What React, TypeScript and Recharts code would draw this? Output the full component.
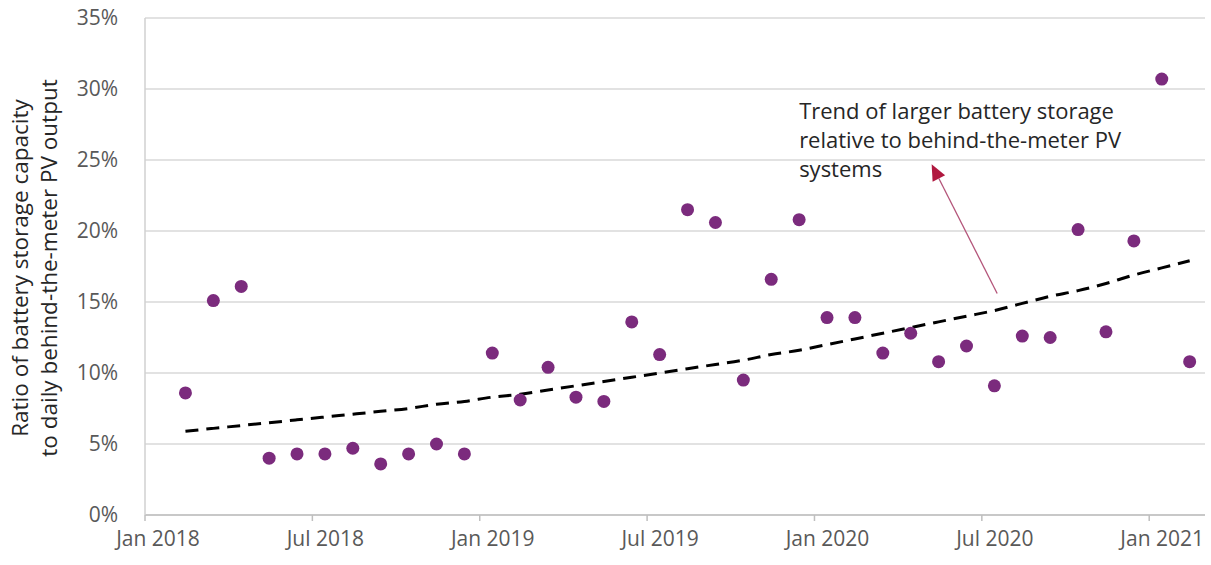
import React from "react";
import {
  ComposedChart,
  Scatter,
  Line,
  XAxis,
  YAxis,
  CartesianGrid,
  ReferenceLine,
  ReferenceDot,
} from "recharts";

// Months (index from Jan 2018 = 0), one observation per month
const months: string[] = [
  "2018-02", "2018-03", "2018-04", "2018-05", "2018-06", "2018-07", "2018-08", "2018-09",
  "2018-10", "2018-11", "2018-12", "2019-01", "2019-02", "2019-03", "2019-04", "2019-05",
  "2019-06", "2019-07", "2019-08", "2019-09", "2019-10", "2019-11", "2019-12", "2020-01",
  "2020-02", "2020-03", "2020-04", "2020-05", "2020-06", "2020-07", "2020-08", "2020-09",
  "2020-10", "2020-11", "2020-12", "2021-01", "2021-02",
];

// Ratio of battery storage capacity to daily behind-the-meter PV output (%)
const ratio: number[] = [
  8.6, 15.1, 16.1, 4.0, 4.3, 4.3, 4.7, 3.6,
  4.3, 5.0, 4.3, 11.4, 8.1, 10.4, 8.3, 8.0,
  13.6, 11.3, 21.5, 20.6, 9.5, 16.6, 20.8, 13.9,
  13.9, 11.4, 12.8, 10.8, 11.9, 9.1, 12.6, 12.5,
  20.1, 12.9, 19.3, 30.7, 10.8,
];

// Trend line values (%)
const trend: number[] = [
  5.9, 6.1, 6.3, 6.5, 6.7, 6.9, 7.1, 7.3,
  7.5, 7.8, 8.0, 8.3, 8.5, 8.8, 9.1, 9.4,
  9.7, 10.0, 10.3, 10.6, 10.9, 11.3, 11.6, 12.0,
  12.4, 12.8, 13.2, 13.6, 14.0, 14.4, 14.9, 15.4,
  15.8, 16.3, 16.9, 17.4, 17.9,
];

const xTicks: number[] = [0, 6, 12, 18, 24, 30, 36];
const xTickLabels: string[] = ["Jan 2018", "Jul 2018", "Jan 2019", "Jul 2019", "Jan 2020", "Jul 2020", "Jan 2021"];
const yTicks: number[] = [0, 5, 10, 15, 20, 25, 30, 35];

const annotationLines: string[] = [
  "Trend of larger battery storage",
  "relative to behind-the-meter PV",
  "systems",
];
const yLabelLines: string[] = [
  "Ratio of battery storage capacity",
  "to daily behind-the-meter PV output",
];

const monthIndex = (m: string) => {
  const [y, mo] = m.split("-").map(Number);
  return (y - 2018) * 12 + (mo - 1) + 0.45;
};

const data = months.map((m, i) => ({
  x: monthIndex(m),
  ratio: ratio[i],
  trend: trend[i],
}));

const FONT = "'Open Sans', 'Noto Sans', sans-serif";

const XTick = (props: any) => {
  const { x, y, payload } = props;
  const idx = xTicks.indexOf(payload.value);
  return (
    <text x={x + 13} y={y + 23} textAnchor="middle" fontFamily={FONT} fontSize={21} fill="#595959">
      {xTickLabels[idx]}
    </text>
  );
};

const YTick = (props: any) => {
  const { x, y, payload } = props;
  return (
    <text x={x} y={y + 7} textAnchor="end" fontFamily={FONT} fontSize={21} fill="#595959">
      {payload.value + "%"}
    </text>
  );
};

const ArrowShape = (props: any) => {
  const { x1, y1, x2, y2 } = props;
  if ([x1, y1, x2, y2].some((v) => typeof v !== "number")) return null;
  const dx = x2 - x1;
  const dy = y2 - y1;
  const len = Math.sqrt(dx * dx + dy * dy);
  const ux = dx / len;
  const uy = dy / len;
  const headLen = 16;
  const headW = 7;
  const bx = x2 - ux * headLen;
  const by = y2 - uy * headLen;
  const px = -uy;
  const py = ux;
  return (
    <g>
      <line x1={x1} y1={y1} x2={bx} y2={by} stroke="#b4557a" strokeWidth={1.3} />
      <polygon
        points={`${x2},${y2} ${bx + px * headW},${by + py * headW} ${bx - px * headW},${by - py * headW}`}
        fill="#b0183f"
      />
    </g>
  );
};

const AnnotationText = (props: any) => {
  const { cx, cy } = props;
  if (typeof cx !== "number") return null;
  return (
    <text fontFamily={FONT} fontSize={22} fill="#262626">
      {annotationLines.map((l, i) => (
        <tspan key={i} x={cx} y={cy + i * 29}>
          {l}
        </tspan>
      ))}
    </text>
  );
};

const YLabel = () => (
  <g>
    {yLabelLines.map((l, i) => (
      <text
        key={i}
        x={0}
        y={0}
        transform={`translate(${28 + i * 29}, 268) rotate(-90)`}
        textAnchor="middle"
        fontFamily={FONT}
        fontSize={22.5}
        fill="#262626"
      >
        {l}
      </text>
    ))}
  </g>
);

export default function App() {
  return (
    <div style={{ position: "absolute", left: 0, top: 0, width: 1211, height: 565, background: "#fff" }}>
      <ComposedChart
        width={1211}
        height={565}
        data={data}
        margin={{ top: 18, right: 6, bottom: 0, left: 0 }}
      >
        <CartesianGrid horizontal vertical={false} stroke="#d9d9d9" strokeWidth={1.5} />
        <XAxis
          type="number"
          dataKey="x"
          domain={[0, 38]}
          ticks={xTicks}
          tick={<XTick />}
          height={50}
          axisLine={{ stroke: "#bfbfbf", strokeWidth: 1.5 }}
          tickLine={{ stroke: "#bfbfbf", strokeWidth: 1.5 }}
          tickSize={6}
          interval={0}
        />
        <YAxis
          type="number"
          domain={[0, 35]}
          ticks={yTicks}
          tick={<YTick />}
          width={145}
          axisLine={{ stroke: "#d0d0d0", strokeWidth: 1.5 }}
          tickLine={false}
          tickSize={0}
          tickMargin={27}
          interval={0}
        />
        <Line
          dataKey="trend"
          type="monotone"
          stroke="#000"
          strokeWidth={3}
          strokeDasharray="13 8"
          dot={false}
          activeDot={false}
          isAnimationActive={false}
        />
        <Scatter
          dataKey="ratio"
          fill="#7b2b7d"
          isAnimationActive={false}
          shape={(p: any) => <circle cx={p.cx} cy={p.cy} r={6.5} fill="#7b2b7d" />}
        />
        <ReferenceLine
          segment={[
            { x: 30.55, y: 15.6 },
            { x: 28.2, y: 24.7 },
          ]}
          shape={<ArrowShape />}
          ifOverflow="visible"
        />
        <ReferenceDot x={23.45} y={27.9} r={0} shape={<AnnotationText />} ifOverflow="visible" />
        <YLabel />
      </ComposedChart>
    </div>
  );
}
